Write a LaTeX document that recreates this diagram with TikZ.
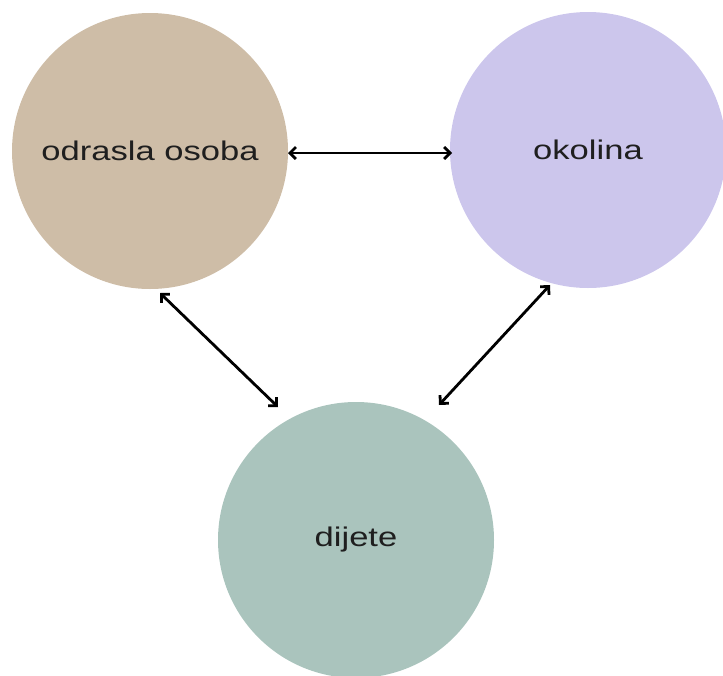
\documentclass[tikz,border=0pt]{standalone}
\usepackage{fontspec}
\setmainfont[FakeStretch=1.28]{Liberation Sans}
\usetikzlibrary{arrows.meta,calc}
\definecolor{tanc}{RGB}{206,189,167}
\definecolor{lavc}{RGB}{204,198,236}
\definecolor{greenc}{RGB}{170,196,189}
\begin{document}
\begin{tikzpicture}[x=1pt,y=-1pt,
  blob/.style={circle,draw=none,inner sep=0pt,minimum size=276pt,font=\fontsize{27}{31}\selectfont,text=black!88},
  link/.style={line width=2.8pt,{Straight Barb[length=6pt,width=12pt]}-{Straight Barb[length=6pt,width=12pt]}}]
\useasboundingbox (0,0) rectangle (723,675);
\node[blob,fill=tanc] (a) at (150,151) {odrasla osoba};
\node[blob,fill=lavc] (o) at (588,150) {okolina};
\node[blob,fill=greenc] (d) at (356,540) {dijete};
\draw[link] ($(a.center)+(138,2)$) -- ($(o.center)+(-136,3)$);
\draw[link] ($(a.center)+(10,142)$) -- ($(d.center)+(-78,-133)$);
\draw[link] ($(o.center)+(-38,135)$) -- ($(d.center)+(83,-135)$);
\end{tikzpicture}
\end{document}
